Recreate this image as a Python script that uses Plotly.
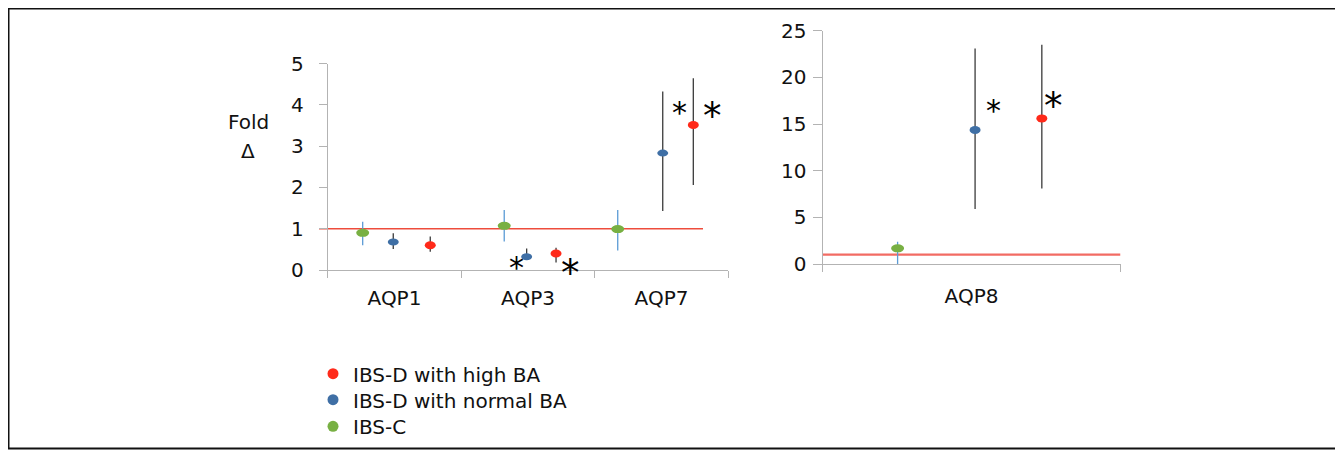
import plotly.graph_objects as go

# ---------------- data ----------------
categories_left = ["AQP1", "AQP3", "AQP7"]
categories_right = ["AQP8"]

series_names = ["IBS-D with high BA", "IBS-D with normal BA", "IBS-C"]

# left panel (fold change), order of categories_left
high_ba = [0.60, 0.40, 3.51]
high_ba_upper = [0.81, 0.54, 4.64]
high_ba_lower = [0.44, 0.18, 2.06]

normal_ba = [0.68, 0.32, 2.83]
normal_ba_upper = [0.89, 0.52, 4.32]
normal_ba_lower = [0.51, 0.27, 1.43]

ibs_c = [0.90, 1.07, 0.99]
ibs_c_upper = [1.17, 1.45, 1.45]
ibs_c_lower = [0.60, 0.69, 0.47]

# right panel (AQP8)
high_ba_r = [15.6]
high_ba_r_upper = [23.5]
high_ba_r_lower = [8.1]

normal_ba_r = [14.36]
normal_ba_r_upper = [23.1]
normal_ba_r_lower = [5.9]

ibs_c_r = [1.68]
ibs_c_r_upper = [2.39]
ibs_c_r_lower = [-0.3]

reference_level = 1

# significance markers: (x in category units, value level, size class)
sig_left = [(0.916, 0.12, "s"), (1.315, 0.04, "l"), (2.131, 3.87, "s"), (2.381, 3.85, "l")]
sig_right = [(0.073, 16.69, "s"), (0.2745, 17.4, "l")]

# ---------------- layout / style ----------------
W, H = 1343, 451
OX, OY = 8, 8  # page body margin of the browser
# horizontal offsets of each series within its category (category units)
off_high = [0.268, 0.21, 0.238]
off_normal = [-0.009, -0.01, 0.009]
off_c = [-0.238, -0.178, -0.328]
off_high_r = [0.236]
off_normal_r = [0.012]
off_c_r = [-0.248]

RED = "#ff2a1a"
BLUE = "#3f6fa5"
GREEN = "#78b043"
ERR_DARK = "#3a3a3a"
ERR_LIGHT = "#5b9bd5"
AXIS = "#b3b3b3"
REFLINE = "#ee4c3c"
FONT = "DejaVu Sans"
FS = 20


def px_x(p):
    return (p - OX) / W


def px_y(p):
    return 1 - (p - OY) / H


fig = go.Figure()

shapes = []


def add_series(xs_cat, offs, vals, ups, lows, color, errcolor, xa, ya, ew, eh):
    xs = [c + o for c, o in zip(xs_cat, offs)]
    fig.add_trace(go.Scatter(
        x=xs, y=vals, mode="markers",
        marker=dict(size=2, opacity=0),
        error_y=dict(type="data", symmetric=False,
                     array=[u - v for u, v in zip(ups, vals)],
                     arrayminus=[v - l for v, l in zip(vals, lows)],
                     color=errcolor, thickness=1.3, width=0),
        showlegend=False, hoverinfo="skip",
        xaxis=xa, yaxis=ya, cliponaxis=False,
    ))
    for x, v in zip(xs, vals):
        shapes.append(dict(
            type="circle", xref=xa, yref=ya,
            xsizemode="pixel", ysizemode="pixel",
            xanchor=x, yanchor=v,
            x0=-ew / 2, x1=ew / 2, y0=-eh / 2, y1=eh / 2,
            fillcolor=color, line=dict(width=0), layer="above",
        ))


idx_left = list(range(len(categories_left)))
idx_right = list(range(len(categories_right)))

add_series(idx_left, off_c, ibs_c, ibs_c_upper, ibs_c_lower, GREEN, ERR_LIGHT, "x", "y", 13, 8)
add_series(idx_left, off_normal, normal_ba, normal_ba_upper, normal_ba_lower, BLUE, ERR_DARK, "x", "y", 11, 7)
add_series(idx_left, off_high, high_ba, high_ba_upper, high_ba_lower, RED, ERR_DARK, "x", "y", 11, 8)

add_series(idx_right, off_c_r, ibs_c_r, ibs_c_r_upper, ibs_c_r_lower, GREEN, ERR_LIGHT, "x2", "y2", 13, 8)
add_series(idx_right, off_normal_r, normal_ba_r, normal_ba_r_upper, normal_ba_r_lower, BLUE, ERR_DARK, "x2", "y2", 11, 8)
add_series(idx_right, off_high_r, high_ba_r, high_ba_r_upper, high_ba_r_lower, RED, ERR_DARK, "x2", "y2", 11, 8)

# reference lines at fold = 1
shapes.append(dict(type="line", xref="paper", yref="y", x0=px_x(319), x1=px_x(703),
                   y0=reference_level, y1=reference_level,
                   line=dict(color=REFLINE, width=1.5), layer="below"))
shapes.append(dict(type="line", xref="x2", yref="y2", x0=-0.5, x1=0.5,
                   y0=reference_level, y1=reference_level,
                   line=dict(color="#f26b63", width=2.2), layer="below"))

# outer frame
shapes.append(dict(type="rect", xref="paper", yref="paper",
                   x0=px_x(8.5), x1=px_x(1340), y0=px_y(448.5), y1=px_y(8.5),
                   line=dict(color="#111111", width=2), layer="below"))

# legend-only traces, one legend per row
legend_rows = [373.7, 399.7, 426.3]
legend_ids = ["legend", "legend2", "legend3"]
for name, col, lid in zip(series_names, [RED, BLUE, GREEN], legend_ids):
    fig.add_trace(go.Scatter(x=[None], y=[None], mode="markers", name=name,
                             marker=dict(color=col, size=11), legend=lid))

annotations = []
for x, y, s in sig_left:
    annotations.append(dict(x=x, y=y, xref="x", yref="y", text="*", showarrow=False,
                            font=dict(family=FONT, size=30 if s == "s" else 37, color="black"),
                            yanchor="middle", xanchor="center", yshift=-2 if s == "s" else -5))
for x, y, s in sig_right:
    annotations.append(dict(x=x, y=y, xref="x2", yref="y2", text="*", showarrow=False,
                            font=dict(family=FONT, size=30 if s == "s" else 37, color="black"),
                            yanchor="middle", xanchor="center", yshift=-2 if s == "s" else -5))

annotations.append(dict(x=px_x(248), y=px_y(122), xref="paper", yref="paper", text="Fold",
                        showarrow=False, font=dict(family=FONT, size=FS, color="#111"),
                        xanchor="center", yanchor="middle"))
annotations.append(dict(x=px_x(248), y=px_y(151), xref="paper", yref="paper", text="Δ",
                        showarrow=False, font=dict(family=FONT, size=FS, color="#111"),
                        xanchor="center", yanchor="middle"))

tickfont = dict(family=FONT, size=FS, color="#111")

legend_common = dict(xanchor="left", yanchor="middle",
                     font=dict(family=FONT, size=FS, color="#111"),
                     bgcolor="rgba(0,0,0,0)", borderwidth=0)

fig.update_layout(
    width=W, height=H,
    margin=dict(l=0, r=0, t=0, b=0, autoexpand=False),
    paper_bgcolor="white", plot_bgcolor="white",
    showlegend=True,
    shapes=shapes,
    annotations=annotations,
    xaxis=dict(domain=[px_x(327.7), px_x(728.3)], range=[-0.5, 2.5],
               tickmode="array", tickvals=idx_left, ticktext=categories_left,
               ticks="", showline=True, linecolor=AXIS, linewidth=1,
               showgrid=False, zeroline=False, tickfont=tickfont, ticklabelstandoff=10,
               minor=dict(tickmode="array", tickvals=[-0.5, 0.5, 1.5, 2.5], ticks="outside",
                          ticklen=7, tickcolor=AXIS, tickwidth=1, showgrid=False),
               anchor="y", fixedrange=True, automargin=False),
    yaxis=dict(domain=[px_y(270), px_y(63.5)], range=[0, 5], dtick=1,
               ticks="outside", ticklen=8, tickcolor=AXIS, showline=True, linecolor=AXIS,
               showgrid=False, zeroline=False, tickfont=tickfont, ticklabelstandoff=11,
               anchor="x", fixedrange=True, automargin=False),
    xaxis2=dict(domain=[px_x(822.5), px_x(1120.5)], range=[-0.5, 0.5],
                tickmode="array", tickvals=idx_right, ticktext=categories_right,
                ticks="", showline=True, linecolor=AXIS, linewidth=1,
                showgrid=False, zeroline=False, tickfont=tickfont, ticklabelstandoff=14,
                minor=dict(tickmode="array", tickvals=[-0.5, 0.5], ticks="outside",
                           ticklen=7, tickcolor=AXIS, tickwidth=1, showgrid=False),
                anchor="y2", fixedrange=True, automargin=False),
    yaxis2=dict(domain=[px_y(264), px_y(30.7)], range=[0, 25], dtick=5,
                ticks="outside", ticklen=9, tickcolor=AXIS, showline=True, linecolor=AXIS,
                showgrid=False, zeroline=False, tickfont=tickfont, ticklabelstandoff=2,
                anchor="x2", fixedrange=True, automargin=False),
)

for lid, row in zip(legend_ids, legend_rows):
    fig.update_layout({lid: dict(x=px_x(313), y=px_y(row), **legend_common)})

fig.write_html("out.html")
